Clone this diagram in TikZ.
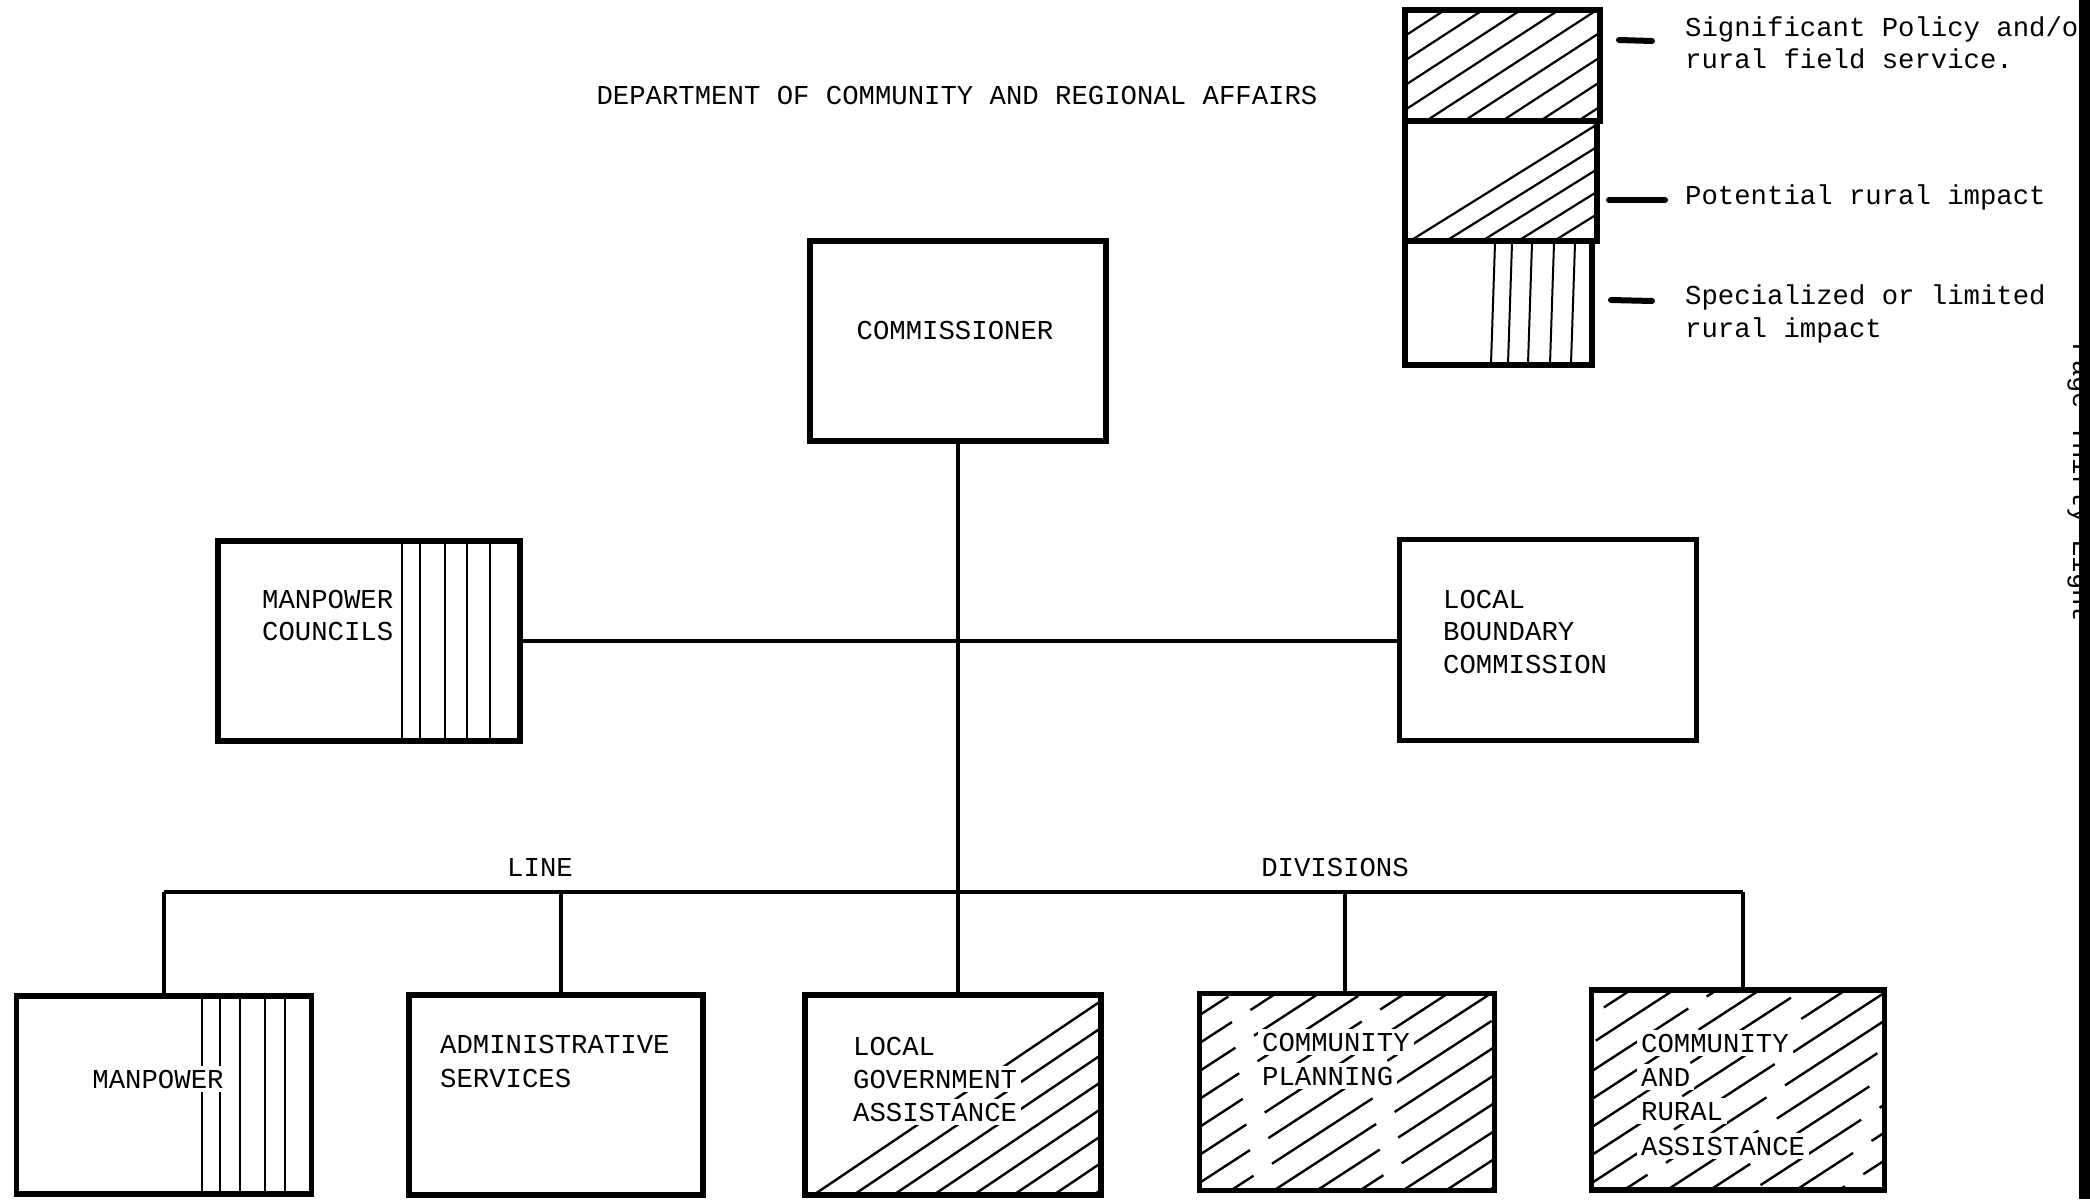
\documentclass[tikz,border=0pt]{standalone}
\usepackage{fontspec}
\setmonofont{Liberation Mono}
\usetikzlibrary{calc}

\tikzset{
  unit/.style={draw=black, line width=5.8pt, inner sep=0pt, outer sep=0pt},
  link/.style={line width=4.8pt},
  hatch/.style={line width=2.4pt},
  rule/.style={line width=2.4pt},
  txt/.style={font=\ttfamily\fontsize{27.3}{33}\selectfont, inner sep=0pt, anchor=base west},
  txtw/.style={txt, fill=white, inner sep=4pt},
  keymark/.style={line width=6pt, line cap=round}
}

\begin{document}
\begin{tikzpicture}[x=1pt,y=-1pt]
\useasboundingbox (0,0) rectangle (2090,1199);
\fill[white] (0,0) rectangle (2090,1199);

% ---------- organisation units ----------
\node[unit, minimum width=296pt, minimum height=200pt] (comm) at (958,341) {};
\node[unit, minimum width=302pt, minimum height=200pt] (mpc)  at (369,641) {};
\node[unit, minimum width=297pt, minimum height=201pt] (lbc)  at (1548,640) {};
\node[unit, minimum width=295pt, minimum height=198pt] (mp)   at (164,1095) {};
\node[unit, minimum width=294pt, minimum height=200pt] (adm)  at (556,1095) {};
\node[unit, minimum width=296pt, minimum height=200pt] (lga)  at (953,1095) {};
\node[unit, minimum width=295pt, minimum height=197pt] (cp)   at (1347,1092) {};
\node[unit, minimum width=293pt, minimum height=200pt] (cra)  at (1738,1090) {};

% ---------- shading: specialized / limited impact (vertical rules) ----------
\foreach \x in {402,420,445,467,490}
  \draw[rule] (\x,542) -- (\x,740);
\foreach \x in {202,220,240,265,285}
  \draw[rule] (\x,998) -- (\x,1193);

% ---------- shading: potential impact (lower-right triangle) ----------
\begin{scope}
  \clip (795,1196) -- (1101,1196) -- (1101,988) -- cycle;
  \foreach \k in {0,...,7}
    \draw[hatch] (812+\k*40,1196) -- ++(440,-297);
\end{scope}

% ---------- shading: significant policy (full, broken strokes) ----------
\begin{scope}
  \clip (cp.south west) rectangle (cp.north east);
  \foreach \k in {0,...,14}{
    \pgfmathtruncatemacro\ph{mod(\k*47,142)}
    \draw[hatch, dash pattern=on 120pt off 22pt, dash phase=\ph pt]
      (886+\k*43,1191) -- ++(480,-312);
  }
\end{scope}
\begin{scope}
  \clip (cra.south west) rectangle (cra.north east);
  \foreach \k in {0,...,14}{
    \pgfmathtruncatemacro\ph{mod(\k*61+30,142)}
    \draw[hatch, dash pattern=on 120pt off 22pt, dash phase=\ph pt]
      (1280+\k*43,1190) -- ++(480,-312);
  }
\end{scope}

% ---------- connectors ----------
\draw[link] (comm.south) -- (comm.south |- lga.north);
\draw[link] (mpc.east) -- (mpc.east -| lbc.west);
\coordinate (barL) at (164,892);
\coordinate (barR) at (1743,892);
\coordinate (dA) at (561,892);
\coordinate (dC) at (1345,892);
\draw[link] (barL) -- (barR);
\draw[link] (barL) -- (barL |- mp.north);
\draw[link] (dA) -- (dA |- adm.north);
\draw[link] (dC) -- (dC |- cp.north);
\draw[link] (barR) -- (barR |- cra.north);

% ---------- unit labels ----------
\node[txt, anchor=base] (commT) at (955,339) {COMMISSIONER};

\node[txt] (mpc1) at (262,608) {MANPOWER};
\node[txt] (mpc2) at (262,640) {COUNCILS};

\node[txt] (lbc1) at (1443,608) {LOCAL};
\node[txt] (lbc2) at (1443,640) {BOUNDARY};
\node[txt] (lbc3) at (1443,673) {COMMISSION};

\node[txtw, anchor=base] (mp1) at (158,1088) {MANPOWER};

\node[txt] (adm1) at (440,1053) {ADMINISTRATIVE};
\node[txt] (adm2) at (440,1087) {SERVICES};

\node[txtw] (lga1) at (849,1055) {LOCAL};
\node[txtw] (lga2) at (849,1088) {GOVERNMENT};
\node[txtw] (lga3) at (849,1121) {ASSISTANCE};

\node[txtw] (cp1) at (1258,1051) {COMMUNITY};
\node[txtw] (cp2) at (1258,1085) {PLANNING};

\node[txtw] (cra1) at (1637,1052) {COMMUNITY};
\node[txtw] (cra2) at (1637,1086) {AND};
\node[txtw] (cra3) at (1637,1120) {RURAL};
\node[txtw] (cra4) at (1637,1155) {ASSISTANCE};

% ---------- headings ----------
\node[txt, anchor=base] (title) at (957,104) {DEPARTMENT OF COMMUNITY AND REGIONAL AFFAIRS};
\node[txt, anchor=base] (lineT) at (540,876) {LINE};
\node[txt, anchor=base] (divT)  at (1335,876) {DIVISIONS};

% ---------- key ----------
\node[unit, minimum width=195pt, minimum height=111pt] (keyA) at (1502.5,65.5) {};
\node[unit, minimum width=192pt, minimum height=120pt] (keyB) at (1501,181) {};
\node[unit, minimum width=187pt, minimum height=124pt] (keyC) at (1498.5,303) {};

\begin{scope}
  \clip (keyA.south west) rectangle (keyA.north east);
  \foreach \k in {0,...,10}
    \draw[hatch, line width=2.2pt] (1236+\k*38,121) -- ++(300,-195);
\end{scope}
\begin{scope}
  \clip (1400,241) -- (1597,241) -- (1597,116) -- cycle;
  \foreach \k in {0,...,4}
    \draw[hatch, line width=2.2pt] (1410+\k*36,241) -- ++(300,-187);
\end{scope}
\foreach \x in {1491,1508,1528,1550,1571}
  \draw[line width=2pt] (\x,364) -- (\x+4,243);

\draw[keymark] (1619,40) -- (1652,41);
\draw[keymark] (1609,200) -- (1665,200);
\draw[keymark] (1611,300) -- (1652,301);

\node[txt] (k1a) at (1685,37) {Significant Policy and/or};
\node[txt] (k1b) at (1685,69) {rural field service.};
\node[txt] (k2)  at (1685,204) {Potential rural impact};
\node[txt] (k3a) at (1685,304) {Specialized or limited};
\node[txt] (k3b) at (1685,337) {rural impact};

% ---------- page margin ----------
\node[txt, rotate=-90, anchor=base] (page) at (2073,483) {Page Thirty Eight};
\fill[black] (2079,0) rectangle (2090,1199);

\end{tikzpicture}
\end{document}
